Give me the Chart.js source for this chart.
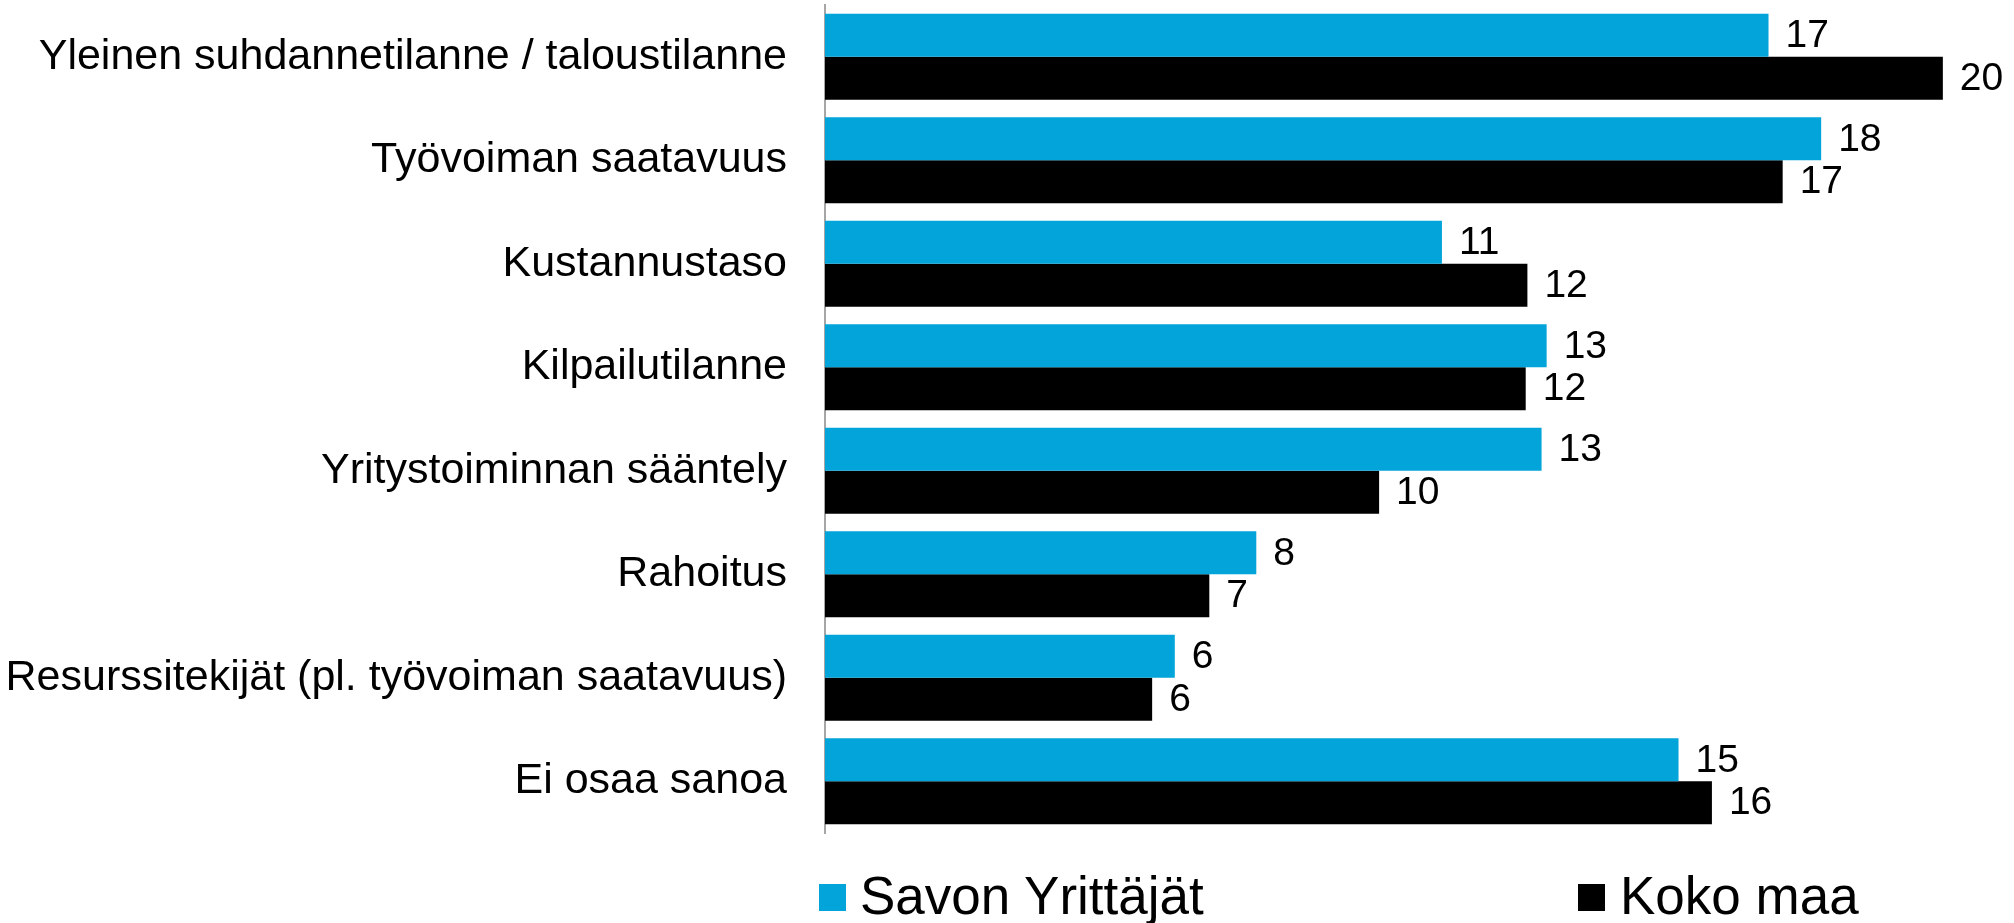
<!DOCTYPE html>
<html>
<head>
<meta charset="utf-8">
<script src="https://cdn.jsdelivr.net/npm/chart.js@4.4.1/dist/chart.umd.min.js"></script>
<style>
    html, body { margin: 0; padding: 0; background: #fff; }
    #wrap { position: relative; width: 2014px; height: 923px; }
    .legend-item { position: absolute; font-family: "Liberation Sans", Arial, sans-serif; font-size: 53px; line-height: 53px; color: #000; white-space: nowrap; }
    .legend-box { position: absolute; width: 27px; height: 27px; }
</style>
</head>
<body>
<div id="wrap">
    <canvas id="chart" width="2014" height="923"></canvas>
    <div id="legend"></div>
</div>
<script>
// Categories (top to bottom)
const categories = [
    'Yleinen suhdannetilanne / taloustilanne',
    'Työvoiman saatavuus',
    'Kustannustaso',
    'Kilpailutilanne',
    'Yritystoiminnan sääntely',
    'Rahoitus',
    'Resurssitekijät (pl. työvoiman saatavuus)',
    'Ei osaa sanoa'
];

// Series values (%); labels show rounded values
const savonYrittajat = [16.67, 17.60, 10.90, 12.75, 12.66, 7.62, 6.18, 15.08];
const kokoMaa = [19.75, 16.92, 12.41, 12.38, 9.79, 6.79, 5.78, 15.67];

const seriesNames = ['Savon Yrittäjät', 'Koko maa'];
const seriesColors = ['#03A4DA', '#000000'];

const FONT = '"Liberation Sans", Arial, sans-serif';

// draws the rounded value just outside the end of each bar
const barLabels = {
    id: 'barLabels',
    afterDatasetsDraw(chart) {
        const ctx = chart.ctx;
        ctx.save();
        ctx.font = '39px ' + FONT;
        ctx.fillStyle = '#000';
        ctx.textAlign = 'left';
        ctx.textBaseline = 'middle';
        chart.data.datasets.forEach((ds, i) => {
            chart.getDatasetMeta(i).data.forEach((bar, j) => {
                ctx.fillText(Math.round(ds.data[j]), bar.x + 17, bar.y + 1);
            });
        });
        ctx.restore();
    }
};

const ctx = document.getElementById('chart').getContext('2d');
const chart = new Chart(ctx, {
    type: 'bar',
    data: {
        labels: categories,
        datasets: [
            { label: seriesNames[0], data: savonYrittajat, backgroundColor: seriesColors[0] },
            { label: seriesNames[1], data: kokoMaa, backgroundColor: seriesColors[1] }
        ]
    },
    options: {
        indexAxis: 'y',
        responsive: false,
        animation: false,
        datasets: {
            bar: { categoryPercentage: 0.829, barPercentage: 1.0, borderWidth: 0 }
        },
        layout: {
            padding: { top: 5, right: 57, bottom: 90, left: 0 }
        },
        scales: {
            x: {
                display: false,
                min: 0,
                max: 20
            },
            y: {
                afterFit(scale) {
                    // fixed axis position, and no extra room above/below for labels
                    scale.width = 825;
                    scale.paddingTop = 0;
                    scale.paddingBottom = 0;
                },
                grid: { display: false, drawTicks: false },
                border: { display: true, color: '#a6a6a6', width: 2 },
                ticks: {
                    padding: 38,
                    color: '#000',
                    font: { family: FONT, size: 43 }
                }
            }
        },
        plugins: {
            legend: { display: false },
            tooltip: { enabled: false }
        }
    },
    plugins: [barLabels]
});

// Legend below the chart
const legendPos = [{ box: 819, text: 860 }, { box: 1578, text: 1620 }];
const legendEl = document.getElementById('legend');
seriesNames.forEach((name, i) => {
    const box = document.createElement('div');
    box.className = 'legend-box';
    box.style.left = legendPos[i].box + 'px';
    box.style.top = '884px';
    box.style.background = seriesColors[i];
    legendEl.appendChild(box);

    const txt = document.createElement('div');
    txt.className = 'legend-item';
    txt.style.left = legendPos[i].text + 'px';
    txt.style.top = '869px';
    txt.textContent = name;
    legendEl.appendChild(txt);
});
</script>
</body>
</html>
